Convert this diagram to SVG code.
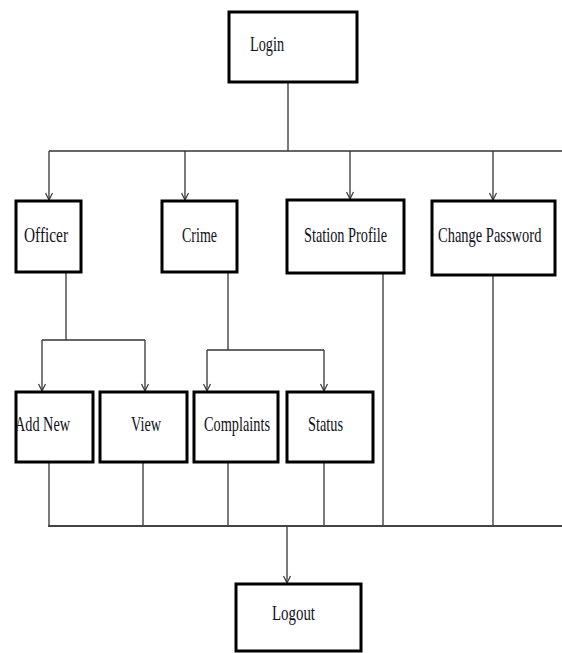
<svg xmlns="http://www.w3.org/2000/svg" width="562" height="653" viewBox="0 0 562 653">
<style>
.box{fill:#fff;stroke:#000;stroke-width:3}
.lbl{font-family:"Liberation Serif","Times New Roman",serif;font-size:21px;fill:#111122}
.ln{stroke:#333;stroke-width:1.3;fill:none}
</style>
<defs>
<marker id="v" markerWidth="8" markerHeight="10" refX="4" refY="8" markerUnits="userSpaceOnUse" viewBox="0 0 8 10">
<path d="M0.5,1 L4,8 L7.5,1" fill="none" stroke="#333" stroke-width="1.2"/>
</marker>
</defs>
<rect width="562" height="653" fill="#fff"/>
<g id="connectors">
<line class="ln" x1="288" y1="82" x2="288" y2="151"/>
<line class="ln" x1="49" y1="151" x2="562" y2="151"/>
<line class="ln" x1="49" y1="151" x2="49" y2="200" marker-end="url(#v)"/>
<line class="ln" x1="185" y1="151" x2="185" y2="200" marker-end="url(#v)"/>
<line class="ln" x1="350" y1="151" x2="350" y2="199" marker-end="url(#v)"/>
<line class="ln" x1="493" y1="151" x2="493" y2="200" marker-end="url(#v)"/>
<line class="ln" x1="66" y1="273" x2="66" y2="340"/>
<line class="ln" x1="42" y1="340" x2="145" y2="340"/>
<line class="ln" x1="42" y1="340" x2="42" y2="391" marker-end="url(#v)"/>
<line class="ln" x1="145" y1="340" x2="145" y2="391" marker-end="url(#v)"/>
<line class="ln" x1="228" y1="273" x2="228" y2="350"/>
<line class="ln" x1="207" y1="350" x2="324" y2="350"/>
<line class="ln" x1="207" y1="350" x2="207" y2="391" marker-end="url(#v)"/>
<line class="ln" x1="324" y1="350" x2="324" y2="391" marker-end="url(#v)"/>
<line class="ln" x1="49" y1="463" x2="49" y2="526"/>
<line class="ln" x1="143" y1="463" x2="143" y2="526"/>
<line class="ln" x1="228" y1="463" x2="228" y2="526"/>
<line class="ln" x1="324" y1="463" x2="324" y2="526"/>
<line class="ln" x1="383" y1="274" x2="383" y2="526"/>
<line class="ln" x1="493" y1="276" x2="493" y2="526"/>
<line x1="48" y1="526" x2="562" y2="526" stroke="#444" stroke-width="1.8"/>
<line class="ln" x1="287" y1="527" x2="287" y2="583" marker-end="url(#v)"/>
</g>
<g id="login"><rect class="box" x="229" y="12" width="128" height="70"/><text class="lbl" x="250" y="51" textLength="34" lengthAdjust="spacingAndGlyphs">Login</text></g>
<g id="officer"><rect class="box" x="16" y="201" width="65" height="71"/><text class="lbl" x="24" y="242" textLength="44" lengthAdjust="spacingAndGlyphs">Officer</text></g>
<g id="crime"><rect class="box" x="162" y="201" width="75" height="71"/><text class="lbl" x="182" y="242" textLength="35" lengthAdjust="spacingAndGlyphs">Crime</text></g>
<g id="station-profile"><rect class="box" x="287" y="200" width="117" height="73"/><text class="lbl" x="304" y="242" textLength="83" lengthAdjust="spacingAndGlyphs">Station Profile</text></g>
<g id="change-password"><rect class="box" x="432" y="201" width="123" height="74"/><text class="lbl" transform="translate(438,242) scale(0.69,1)" x="0" y="0">Change Password</text></g>
<g id="add-new"><rect class="box" x="16" y="392" width="77" height="70"/><text class="lbl" x="15" y="431" textLength="55" lengthAdjust="spacingAndGlyphs">Add New</text></g>
<g id="view"><rect class="box" x="100" y="392" width="87" height="70"/><text class="lbl" x="131" y="431" textLength="30" lengthAdjust="spacingAndGlyphs">View</text></g>
<g id="complaints"><rect class="box" x="194" y="392" width="84" height="70"/><text class="lbl" x="204" y="431" textLength="66" lengthAdjust="spacingAndGlyphs">Complaints</text></g>
<g id="status"><rect class="box" x="287" y="392" width="86" height="70"/><text class="lbl" x="308" y="431" textLength="35" lengthAdjust="spacingAndGlyphs">Status</text></g>
<g id="logout"><rect class="box" x="236" y="584" width="125" height="67"/><text class="lbl" x="272" y="620" textLength="43" lengthAdjust="spacingAndGlyphs">Logout</text></g>
</svg>
